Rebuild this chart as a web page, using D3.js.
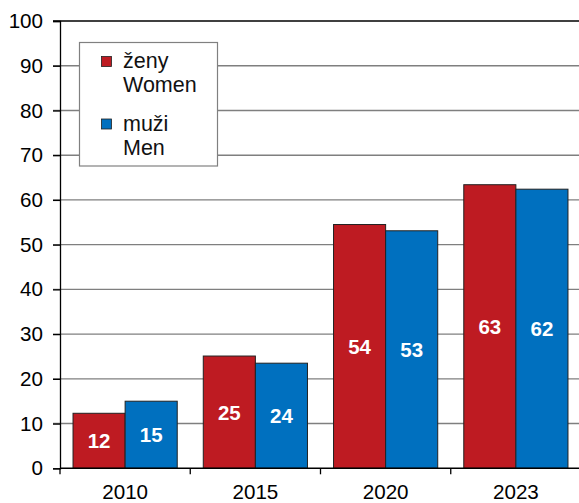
<!DOCTYPE html>
<html>
<head>
<meta charset="utf-8">
<script src="https://cdn.jsdelivr.net/npm/d3@7"></script>
<style>
html,body{margin:0;padding:0;background:#fff;}
svg text{font-family:"Liberation Sans",Arial,sans-serif;}
</style>
</head>
<body>
<svg id="chart" width="579" height="503"></svg>
<script>
const years = ["2010", "2015", "2020", "2023"];
const seriesKeys = ["women", "men"];
const seriesNames = [["ženy", "Women"], ["muži", "Men"]];
const women = [12.3, 25.1, 54.5, 63.4];
const men = [15.0, 23.5, 53.1, 62.4];
const labelsWomen = [12, 25, 54, 63];
const labelsMen = [15, 24, 53, 62];
const yTicks = [0, 10, 20, 30, 40, 50, 60, 70, 80, 90, 100];
const colors = {women: "#BE1B22", men: "#0070BF"};

const svg = d3.select("#chart");
const mLeft = 60, mRight = 581, mTop = 21, mBottom = 468.3;
const FS = 20.6;

const x = d3.scaleBand().domain(years).range([mLeft, mRight]).paddingInner(0).paddingOuter(0);
const xs = d3.scaleBand().domain(seriesKeys).range([0, x.bandwidth()]).paddingInner(0).paddingOuter(0.25);
const y = d3.scaleLinear().domain([0, 100]).range([mBottom, mTop]);

// gridlines
svg.append("g").selectAll("line").data(yTicks.filter(t => t > 0 && t < 100)).join("line")
  .attr("x1", 53).attr("x2", mRight)
  .attr("y1", d => y(d)).attr("y2", d => y(d))
  .attr("stroke", "#7f7f7f").attr("stroke-width", 1.4);
// top border
svg.append("line").attr("x1", 53).attr("x2", mRight).attr("y1", y(100)).attr("y2", y(100))
  .attr("stroke", "#000").attr("stroke-width", 1.3);

// y axis
const yAxis = d3.axisLeft(y).tickValues(yTicks).tickSize(7).tickPadding(10);
const ya = svg.append("g").attr("transform", `translate(${mLeft},0)`).call(yAxis);
ya.select(".domain").attr("stroke", "#000").attr("stroke-width", 1.3);
ya.selectAll(".tick line").attr("stroke", "#000").attr("stroke-width", 1.3);
ya.selectAll(".tick text").attr("font-size", FS).attr("fill", "#000")
  .style("font-family", '"Liberation Sans",Arial,sans-serif');

// legend box
const lg = svg.append("g");
lg.append("rect").attr("x", 79.5).attr("y", 42.5).attr("width", 138).attr("height", 123.5)
  .attr("fill", "#fff").attr("stroke", "#808080").attr("stroke-width", 1.2);
const legendRows = [{key: "women", y0: 68}, {key: "men", y0: 130.5}];
legendRows.forEach((r, i) => {
  lg.append("rect").attr("x", 101.5).attr("y", r.y0 - 11.5).attr("width", 10).attr("height", 10)
    .attr("fill", colors[r.key]).attr("stroke", "#222").attr("stroke-width", 0.8);
  const t = lg.append("text").attr("x", 123).attr("y", r.y0).attr("font-size", 21.5).attr("fill", "#111");
  seriesNames[i].forEach((s, j) => {
    t.append("tspan").attr("x", 123).attr("dy", j === 0 ? 0 : 24.3).text(s);
  });
});

// bars
const data = years.map((yr, i) => ({year: yr, values: [
  {key: "women", v: women[i], label: labelsWomen[i]},
  {key: "men", v: men[i], label: labelsMen[i]}
]}));

const groups = svg.append("g").selectAll("g").data(data).join("g")
  .attr("transform", d => `translate(${x(d.year)},0)`);
groups.selectAll("rect").data(d => d.values).join("rect")
  .attr("x", d => xs(d.key)).attr("width", xs.bandwidth())
  .attr("y", d => y(d.v)).attr("height", d => y(0) - y(d.v))
  .attr("fill", d => colors[d.key]).attr("stroke", "#222").attr("stroke-width", 1);
groups.selectAll("text").data(d => d.values).join("text")
  .attr("x", d => xs(d.key) + xs.bandwidth() / 2)
  .attr("y", d => (y(d.v) + y(0)) / 2)
  .attr("dy", "0.36em")
  .attr("text-anchor", "middle").attr("font-size", 20.5).attr("font-weight", "bold")
  .attr("fill", "#fff").text(d => d.label);

// x axis
const xAxis = d3.axisBottom(x).tickSize(0).tickPadding(16.5);
const xa = svg.append("g").attr("transform", `translate(0,${mBottom})`).call(xAxis);
xa.select(".domain").remove();
xa.selectAll(".tick text").attr("font-size", FS).attr("fill", "#000")
  .style("font-family", '"Liberation Sans",Arial,sans-serif');
svg.append("line").attr("x1", mLeft).attr("x2", mRight).attr("y1", mBottom).attr("y2", mBottom)
  .attr("stroke", "#000").attr("stroke-width", 1.4);
const bounds = years.map(yr => x(yr)).concat([mRight]);
svg.append("g").selectAll("line").data(bounds).join("line")
  .attr("x1", d => d).attr("x2", d => d).attr("y1", mBottom).attr("y2", mBottom + 6)
  .attr("stroke", "#000").attr("stroke-width", 1.3);
</script>
</body>
</html>
